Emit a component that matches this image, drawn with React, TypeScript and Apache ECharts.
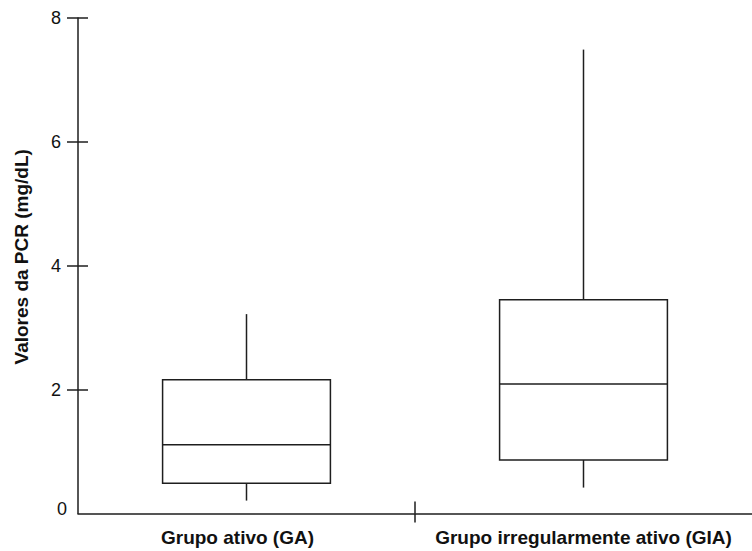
import React, { useEffect, useRef } from 'react';
import * as echarts from 'echarts';

const categories = ['Grupo ativo (GA)', 'Grupo irregularmente ativo (GIA)'];
const lowWhisker = [0.21, 0.42];
const q1 = [0.49, 0.865];
const median = [1.11, 2.09];
const q3 = [2.16, 3.45];
const highWhisker = [3.22, 7.49];
const yTickValues = [2, 4, 6, 8];
const yAxisName = 'Valores da PCR (mg/dL)';

const FONT = '"Liberation Sans", Arial, Helvetica, sans-serif';
const INK = '#1e1e1e';

export default function App() {
  const ref = useRef<HTMLDivElement>(null);

  useEffect(() => {
    if (!ref.current) return;
    const chart = echarts.init(ref.current, undefined, { renderer: 'svg' });
    const lineStyle = { color: INK, width: 1.5 };
    const data = categories.map((_, i) => [i, lowWhisker[i], q1[i], median[i], q3[i], highWhisker[i]]);

    const renderBox = (params: any, api: any) => {
      const x = api.value(0);
      const pLow = api.coord([x, api.value(1)]);
      const pQ1 = api.coord([x, api.value(2)]);
      const pMed = api.coord([x, api.value(3)]);
      const pQ3 = api.coord([x, api.value(4)]);
      const pHigh = api.coord([x, api.value(5)]);
      const cx = pMed[0];
      const halfW = api.size([1, 0])[0] * 0.249;
      const st = { stroke: INK, lineWidth: 1.5, fill: 'none' };
      return {
        type: 'group',
        children: [
          { type: 'line', shape: { x1: cx, y1: pHigh[1], x2: cx, y2: pQ3[1] }, style: st },
          { type: 'line', shape: { x1: cx, y1: pQ1[1], x2: cx, y2: pLow[1] }, style: st },
          {
            type: 'rect',
            shape: { x: cx - halfW, y: pQ3[1], width: 2 * halfW, height: pQ1[1] - pQ3[1] },
            style: { stroke: INK, lineWidth: 1.5, fill: '#ffffff' },
          },
          { type: 'line', shape: { x1: cx - halfW, y1: pMed[1], x2: cx + halfW, y2: pMed[1] }, style: st },
        ],
      };
    };

    chart.setOption({
      animation: false,
      backgroundColor: '#ffffff',
      grid: { left: 78, top: 18, width: 678, height: 495.6, containLabel: false },
      xAxis: [
        {
          type: 'value',
          min: -0.5,
          max: 1.5,
          position: 'bottom',
          axisLine: { show: true, onZero: false, lineStyle },
          axisTick: { show: true, customValues: [0.5], length: 9, lineStyle },
          splitLine: { show: false },
          axisLabel: {
            customValues: [0, 1],
            margin: 14,
            color: '#111',
            fontFamily: FONT,
            fontSize: 19,
            fontWeight: 'bold',
            formatter: (v: number) => {
              const name = categories[Math.round(v)] ?? '';
              return Math.round(v) === 0 ? '{a|' + name + '}' : '{b|' + name + '}';
            },
            rich: {
              a: { fontFamily: FONT, fontSize: 19, fontWeight: 'bold', color: '#111', padding: [0, 18, 0, 0] },
              b: { fontFamily: FONT, fontSize: 19, fontWeight: 'bold', color: '#111' },
            },
          },
        },
        {
          type: 'value',
          min: -0.5,
          max: 1.5,
          position: 'bottom',
          offset: 0,
          axisLine: { show: false, onZero: false },
          axisTick: { show: true, inside: true, customValues: [0.5], length: 12, lineStyle },
          axisLabel: { show: false },
          splitLine: { show: false },
        },
      ],
      yAxis: [
        {
          type: 'value',
          min: 0,
          max: 8,
          interval: 2,
          position: 'left',
          name: yAxisName,
          nameLocation: 'middle',
          nameGap: 47,
          nameTextStyle: {
            fontFamily: FONT,
            fontSize: 19,
            fontWeight: 'bold',
            color: '#111',
            padding: [0, 0, 0, 18],
          },
          axisLine: { show: true, onZero: false, lineStyle },
          axisTick: { show: true, customValues: yTickValues, length: 11, lineStyle },
          splitLine: { show: false },
          axisLabel: {
            margin: 11,
            color: '#111',
            fontFamily: FONT,
            fontSize: 18,
            formatter: (v: number) => (v === 0 ? '{z|0}' : '{n|' + v + '}'),
            rich: {
              n: { fontFamily: FONT, fontSize: 18, color: '#111', padding: [0, 6, 0, 0] },
              z: { fontFamily: FONT, fontSize: 18, color: '#111', padding: [0, 0, 9, 0] },
            },
          },
        },
        {
          type: 'value',
          min: 0,
          max: 8,
          interval: 2,
          position: 'left',
          offset: 0,
          axisLine: { show: false, onZero: false },
          axisTick: { show: true, inside: true, customValues: yTickValues, length: 10, lineStyle },
          axisLabel: { show: false },
          splitLine: { show: false },
        },
      ],
      series: [
        {
          type: 'custom',
          xAxisIndex: 0,
          yAxisIndex: 0,
          encode: { x: 0, y: [1, 2, 3, 4, 5] },
          data,
          renderItem: renderBox,
        },
        {
          type: 'custom',
          xAxisIndex: 1,
          yAxisIndex: 1,
          encode: { x: 0, y: [1, 2, 3, 4, 5] },
          data: [],
          renderItem: renderBox,
          silent: true,
        },
      ],
    });

    return () => chart.dispose();
  }, []);

  return (
    <div
      ref={ref}
      style={{ position: 'fixed', left: 0, top: 0, width: 752, height: 551, background: '#fff' }}
    />
  );
}
